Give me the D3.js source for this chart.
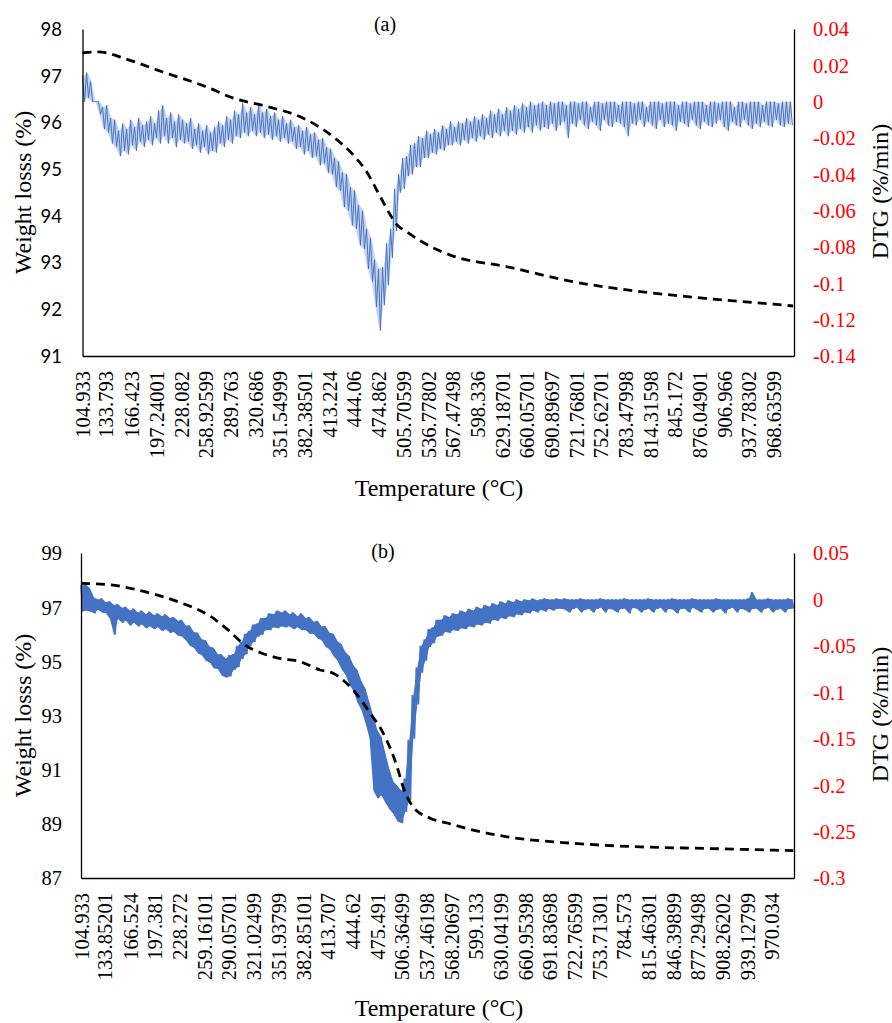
<!DOCTYPE html>
<html>
<head>
<meta charset="utf-8">
<script src="https://cdn.jsdelivr.net/npm/d3@7"></script>
<style>
  html, body { margin: 0; padding: 0; background: #ffffff; }
  svg { display: block; }
  .serif { font-family: "Liberation Serif", "Times New Roman", Tinos, "DejaVu Serif", serif; }
  .sans { font-family: Lato, "Open Sans", sans-serif; }
</style>
</head>
<body>
<svg id="chart" width="892" height="1023"></svg>
<script>
// ---- Temperature category labels (°C) ----
const tempLabelsA = ["104.933","133.793","166.423","197.24001","228.082","258.92599","289.763",
  "320.686","351.54999","382.38501","413.224","444.06","474.862","505.70599","536.77802",
  "567.47498","598.336","629.18701","660.05701","690.89697","721.76801","752.62701",
  "783.47998","814.31598","845.172","876.04901","906.966","937.78302","968.63599"];
const tempLabelsB = ["104.933","133.85201","166.524","197.381","228.272","259.16101","290.05701",
  "321.02499","351.93799","382.85101","413.707","444.62","475.491","506.36499","537.46198",
  "568.20697","599.133","630.04199","660.95398","691.83698","722.76599","753.71301",
  "784.573","815.46301","846.39899","877.29498","908.26202","939.12799","970.034"];

// ---- Axis tick values ----
const weightTicksA = [91, 92, 93, 94, 95, 96, 97, 98];
const dtgTicksA = [0.04, 0.02, 0, -0.02, -0.04, -0.06, -0.08, -0.1, -0.12, -0.14];
const weightTicksB = [87, 89, 91, 93, 95, 97, 99];
const dtgTicksB = [0.05, 0, -0.05, -0.1, -0.15, -0.2, -0.25, -0.3];

// ---- Weight loss curves (%), temperature in °C ----
const weightTempA = [104.9, 124.9, 162.4, 203.6, 258.6, 293.6, 336.1, 381.1, 418.6, 443.6,
  461.1, 474.8, 489.8, 496.0, 511.0, 536.0, 564.8, 636.0, 718.4, 802.2, 885.9, 968.4, 993.4];
const weightA = [97.49, 97.51, 97.34, 97.09, 96.77, 96.52, 96.34, 96.09, 95.69, 95.30,
  94.92, 94.49, 94.02, 93.85, 93.65, 93.38, 93.16, 92.91, 92.59, 92.38, 92.23, 92.11, 92.07];

const weightTempB = [104.9, 142.5, 185.1, 226.5, 267.8, 289.1, 310.4, 330.5, 351.8, 379.4,
  404.4, 420.7, 445.8, 467.1, 483.4, 500.9, 508.4, 521.0, 542.3, 563.6, 596.2, 638.8,
  721.5, 805.4, 889.4, 997.2];
const weightB = [97.88, 97.82, 97.57, 97.20, 96.65, 96.16, 95.60, 95.31, 95.12, 94.99,
  94.68, 94.56, 93.94, 93.09, 92.35, 91.10, 90.36, 89.62, 89.21, 89.03, 88.77, 88.52,
  88.28, 88.15, 88.09, 88.01];

// ---- DTG signal (%/min): upper and lower excursion of the noisy trace
//      in each 5 °C reading window starting at 105 °C ----
const dtgStart = 105, dtgStep = 5;

const dtgHiA = [
  0.014, 0.016, 0.011, 0.000, 0.000, -0.003, -0.002, -0.009, -0.010, -0.016,
  -0.012, -0.015, -0.010, -0.014, -0.009, -0.013, -0.011, -0.008, -0.012, -0.005,
  -0.002, -0.009, -0.006, -0.011, -0.007, -0.010, -0.012, -0.009, -0.015, -0.012,
  -0.016, -0.013, -0.017, -0.014, -0.011, -0.013, -0.008, -0.010, -0.005, -0.007,
  -0.001, -0.006, -0.003, -0.007, -0.002, -0.006, -0.004, -0.008, -0.006, -0.010,
  -0.008, -0.012, -0.010, -0.014, -0.013, -0.016, -0.014, -0.018, -0.017, -0.021,
  -0.020, -0.025, -0.026, -0.031, -0.033, -0.039, -0.040, -0.047, -0.049, -0.057,
  -0.060, -0.070, -0.075, -0.087, -0.092, -0.091, -0.078, -0.070, -0.048, -0.040,
  -0.031, -0.030, -0.024, -0.023, -0.019, -0.020, -0.016, -0.018, -0.015, -0.017,
  -0.013, -0.015, -0.011, -0.014, -0.011, -0.012, -0.009, -0.011, -0.008, -0.010,
  -0.007, -0.009, -0.005, -0.007, -0.004, -0.007, -0.003, -0.005, -0.002, -0.004,
  -0.001, -0.003, 0.000, -0.002, -0.001, 0.000, -0.002, 0.000, -0.001, 0.000,
  0.000, -0.002, 0.000, 0.000, -0.001, 0.000, 0.000, -0.003, 0.000, 0.000,
  -0.001, 0.000, 0.000, 0.000, -0.002, 0.000, 0.000, 0.000, -0.001, 0.000,
  0.000, -0.003, 0.000, 0.000, 0.000, -0.001, 0.000, 0.000, 0.000, -0.002,
  0.000, 0.000, -0.001, 0.000, 0.000, 0.000, -0.002, 0.000, 0.000, -0.001,
  0.000, 0.000, 0.000, -0.003, 0.000, 0.000, -0.001, 0.000, 0.000, 0.000,
  -0.002, 0.000, 0.000, 0.000, -0.001, 0.000, 0.000, 0.000
];
const dtgLoA = [
  0.000, 0.002, 0.000, 0.000, -0.007, -0.015, -0.017, -0.023, -0.025, -0.030,
  -0.027, -0.029, -0.024, -0.027, -0.022, -0.025, -0.021, -0.024, -0.020, -0.023,
  -0.019, -0.023, -0.020, -0.025, -0.021, -0.023, -0.022, -0.026, -0.024, -0.028,
  -0.025, -0.029, -0.027, -0.028, -0.023, -0.025, -0.021, -0.023, -0.019, -0.020,
  -0.017, -0.019, -0.016, -0.019, -0.017, -0.020, -0.018, -0.021, -0.019, -0.022,
  -0.020, -0.023, -0.022, -0.026, -0.025, -0.029, -0.027, -0.031, -0.030, -0.035,
  -0.034, -0.039, -0.040, -0.047, -0.049, -0.058, -0.060, -0.068, -0.070, -0.079,
  -0.081, -0.092, -0.099, -0.113, -0.126, -0.112, -0.101, -0.086, -0.071, -0.050,
  -0.048, -0.041, -0.040, -0.036, -0.036, -0.031, -0.031, -0.028, -0.029, -0.026,
  -0.027, -0.024, -0.024, -0.022, -0.024, -0.021, -0.023, -0.020, -0.022, -0.019,
  -0.021, -0.018, -0.020, -0.017, -0.019, -0.016, -0.019, -0.016, -0.018, -0.015,
  -0.017, -0.014, -0.017, -0.013, -0.016, -0.014, -0.015, -0.012, -0.016, -0.013,
  -0.011, -0.020, -0.012, -0.014, -0.010, -0.013, -0.015, -0.011, -0.013, -0.016,
  -0.010, -0.013, -0.014, -0.011, -0.012, -0.014, -0.019, -0.012, -0.013, -0.010,
  -0.014, -0.011, -0.013, -0.015, -0.010, -0.014, -0.012, -0.013, -0.016, -0.011,
  -0.012, -0.014, -0.010, -0.013, -0.015, -0.011, -0.013, -0.014, -0.012, -0.010,
  -0.014, -0.016, -0.011, -0.013, -0.014, -0.010, -0.013, -0.015, -0.012, -0.014,
  -0.011, -0.013, -0.014, -0.010, -0.013, -0.014, -0.012, -0.013
];

const dtgHiB = [
  0.015, 0.016, 0.012, 0.002, 0.000, 0.001, -0.003, -0.002, -0.006, -0.005,
  -0.009, -0.008, -0.012, -0.010, -0.014, -0.012, -0.016, -0.013, -0.017, -0.015,
  -0.018, -0.016, -0.020, -0.019, -0.023, -0.022, -0.028, -0.028, -0.035, -0.036,
  -0.043, -0.044, -0.051, -0.052, -0.059, -0.059, -0.064, -0.060, -0.059, -0.050,
  -0.046, -0.037, -0.034, -0.027, -0.026, -0.020, -0.020, -0.015, -0.016, -0.012,
  -0.014, -0.012, -0.016, -0.014, -0.018, -0.015, -0.020, -0.019, -0.024, -0.023,
  -0.029, -0.029, -0.036, -0.037, -0.045, -0.048, -0.057, -0.061, -0.071, -0.076,
  -0.088, -0.096, -0.111, -0.126, -0.141, -0.148, -0.166, -0.183, -0.196, -0.201,
  -0.206, -0.193, -0.151, -0.103, -0.073, -0.050, -0.043, -0.032, -0.030, -0.022,
  -0.022, -0.017, -0.019, -0.015, -0.016, -0.012, -0.014, -0.010, -0.012, -0.008,
  -0.010, -0.006, -0.008, -0.004, -0.006, -0.002, -0.004, -0.001, -0.003, 0.000,
  -0.002, 0.000, -0.001, 0.001, -0.001, 0.000, 0.001, 0.000, 0.000, 0.001,
  0.000, 0.001, 0.000, 0.000, 0.000, 0.001, 0.000, 0.000, 0.000, 0.000,
  0.001, 0.000, 0.000, 0.000, 0.000, 0.000, 0.001, 0.000, 0.000, 0.000,
  0.000, 0.000, 0.001, 0.000, 0.000, 0.000, 0.000, 0.000, 0.001, 0.000,
  0.000, 0.000, 0.000, 0.001, 0.000, 0.000, 0.000, 0.000, 0.000, 0.001,
  0.000, 0.000, 0.000, 0.000, 0.000, 0.000, 0.000, 0.001, 0.008, 0.000,
  0.000, 0.000, 0.001, 0.000, 0.000, 0.000, 0.000, 0.001, 0.000
];
const dtgLoB = [
  -0.013, -0.012, -0.013, -0.015, -0.011, -0.014, -0.015, -0.021, -0.038, -0.021,
  -0.025, -0.023, -0.028, -0.025, -0.029, -0.027, -0.031, -0.029, -0.032, -0.030,
  -0.034, -0.032, -0.036, -0.035, -0.039, -0.040, -0.044, -0.050, -0.052, -0.058,
  -0.060, -0.066, -0.068, -0.074, -0.075, -0.082, -0.084, -0.083, -0.076, -0.073,
  -0.064, -0.059, -0.050, -0.046, -0.040, -0.038, -0.033, -0.033, -0.030, -0.031,
  -0.029, -0.030, -0.029, -0.032, -0.030, -0.033, -0.033, -0.037, -0.037, -0.042,
  -0.044, -0.051, -0.054, -0.061, -0.066, -0.075, -0.081, -0.092, -0.099, -0.111,
  -0.119, -0.133, -0.149, -0.206, -0.214, -0.211, -0.219, -0.226, -0.231, -0.239,
  -0.241, -0.229, -0.216, -0.150, -0.113, -0.079, -0.066, -0.051, -0.047, -0.040,
  -0.039, -0.035, -0.036, -0.033, -0.034, -0.031, -0.032, -0.029, -0.030, -0.027,
  -0.028, -0.025, -0.026, -0.022, -0.023, -0.020, -0.021, -0.018, -0.019, -0.016,
  -0.017, -0.014, -0.015, -0.012, -0.014, -0.011, -0.013, -0.010, -0.012, -0.010,
  -0.010, -0.011, -0.014, -0.010, -0.009, -0.014, -0.011, -0.010, -0.014, -0.010,
  -0.009, -0.014, -0.010, -0.011, -0.014, -0.010, -0.010, -0.015, -0.009, -0.010,
  -0.014, -0.011, -0.010, -0.014, -0.010, -0.009, -0.014, -0.010, -0.011, -0.015,
  -0.010, -0.010, -0.014, -0.009, -0.011, -0.014, -0.010, -0.010, -0.014, -0.011,
  -0.010, -0.015, -0.010, -0.009, -0.014, -0.010, -0.011, -0.014, -0.010, -0.010,
  -0.014, -0.010, -0.009, -0.014, -0.011, -0.010, -0.014, -0.010, -0.010
];

// ---- Drawing ----
const BLUE = "#4472C4";
const svg = d3.select("#chart");

function fmtTick(d) {
  const v = +d.toFixed(4);
  return String(v === 0 ? 0 : v);
}

function drawPanel(p) {
  const g = svg.append("g");

  const x = d3.scaleLinear().domain(p.tempDomain).range([p.left, p.right]);
  const yW = d3.scaleLinear().domain(p.weightDomain).range([p.bottom, p.top]);
  const yD = d3.scaleLinear().domain(p.dtgDomain).range([p.bottom, p.top]);

  // DTG trace: each window contributes its upper then lower excursion
  const n = Math.min(p.dtgHi.length, p.dtgLo.length);
  const dtgPts = [];
  const dtgBand = [];
  for (let i = 0; i < n; i++) {
    const t = dtgStart + i * dtgStep;
    dtgPts.push([t, p.dtgHi[i]]);
    dtgPts.push([t + dtgStep / 2, p.dtgLo[i]]);
    dtgBand.push([t, p.dtgHi[i], p.dtgLo[i]]);
  }

  // spread of the noisy signal
  g.append("path")
    .datum(dtgBand)
    .attr("fill", BLUE)
    .attr("fill-opacity", p.bandOpacity)
    .attr("stroke", "none")
    .attr("d", d3.area().x(d => x(d[0] + dtgStep / 4)).y0(d => yD(d[2])).y1(d => yD(d[1])));

  g.append("path")
    .datum(dtgPts)
    .attr("fill", "none")
    .attr("stroke", BLUE)
    .attr("stroke-width", p.dtgWidth)
    .attr("stroke-linejoin", "miter")
    .attr("d", d3.line().x(d => x(d[0])).y(d => yD(d[1])));

  // Weight-loss curve (dashed)
  const wPts = p.weightTemp.map((t, i) => [t, p.weight[i]]);
  g.append("path")
    .datum(wPts)
    .attr("fill", "none")
    .attr("stroke", "#000")
    .attr("stroke-width", 2.8)
    .attr("stroke-dasharray", "9,6")
    .attr("d", d3.line().curve(d3.curveMonotoneX).x(d => x(d[0])).y(d => yW(d[1])));

  // Bottom axis with rotated category labels
  const xAxis = d3.axisBottom(x)
    .tickValues(p.tempLabels.map(Number))
    .tickFormat((d, i) => p.tempLabels[i])
    .tickSize(0).tickSizeOuter(0);
  const gx = g.append("g").attr("transform", `translate(0,${p.bottom})`).call(xAxis);
  gx.attr("font-family", null).attr("font-size", null);
  gx.select(".domain").attr("stroke", "#000").attr("stroke-width", 1.3);
  gx.selectAll("text")
    .attr("class", "serif")
    .attr("transform", "rotate(-90)")
    .attr("x", -(p.labelTop - p.bottom))
    .attr("y", 0)
    .attr("dy", "0.35em")
    .attr("text-anchor", "end")
    .attr("font-size", "20.5px")
    .attr("fill", "#000");

  // Left axis (weight)
  const gl = g.append("g").attr("transform", `translate(${p.left},0)`)
    .call(d3.axisLeft(yW).tickValues(p.weightTicks).tickFormat(d => String(d))
      .tickSize(0).tickSizeOuter(0).tickPadding(p.left - 62));
  gl.attr("font-family", null).attr("font-size", null);
  gl.select(".domain").attr("stroke", "#000").attr("stroke-width", 1.3);
  gl.selectAll("text")
    .attr("class", p.leftClass)
    .attr("font-size", p.leftFontSize)
    .attr("dy", "0.34em")
    .attr("fill", "#000");

  // Right axis (DTG)
  const gr = g.append("g").attr("transform", `translate(${p.right},0)`)
    .call(d3.axisRight(yD).tickValues(p.dtgTicks).tickFormat(fmtTick)
      .tickSize(0).tickSizeOuter(0).tickPadding(19));
  gr.attr("font-family", null).attr("font-size", null);
  gr.select(".domain").attr("stroke", "#000").attr("stroke-width", 1.3);
  gr.selectAll("text")
    .attr("class", "serif")
    .attr("font-size", "20.5px")
    .attr("dy", "0.34em")
    .attr("fill", "#FF0000");

  // Titles
  g.append("text")
    .attr("class", "serif")
    .attr("x", p.tagX).attr("y", p.tagY)
    .attr("text-anchor", "middle")
    .attr("font-size", "20px")
    .text(p.tag);

  g.append("text")
    .attr("class", "serif")
    .attr("x", 439).attr("y", p.xTitleY)
    .attr("text-anchor", "middle")
    .attr("font-size", "24px")
    .text("Temperature (°C)");

  const cy = (p.top + p.bottom) / 2;
  g.append("text")
    .attr("class", "serif")
    .attr("transform", `translate(${31},${cy}) rotate(-90)`)
    .attr("text-anchor", "middle")
    .attr("font-size", "24px")
    .text("Weight losss (%)");

  g.append("text")
    .attr("class", "serif")
    .attr("transform", `translate(${888},${cy - 1}) rotate(-90)`)
    .attr("text-anchor", "middle")
    .attr("font-size", "24px")
    .text("DTG (%/min)");
}

drawPanel({
  left: 82.5, right: 794, top: 29, bottom: 356, labelTop: 371,
  tempDomain: [104.933, 994.5], weightDomain: [91, 98], dtgDomain: [-0.14, 0.04],
  tempLabels: tempLabelsA, weightTicks: weightTicksA, dtgTicks: dtgTicksA,
  weightTemp: weightTempA, weight: weightA, dtgHi: dtgHiA, dtgLo: dtgLoA,
  dtgWidth: 1.0, bandOpacity: 0.3, leftClass: "sans", leftFontSize: "18.5px",
  tag: "(a)", tagX: 385, tagY: 31, xTitleY: 496
});

drawPanel({
  left: 81, right: 794, top: 553, bottom: 878, labelTop: 893,
  tempDomain: [104.933, 998], weightDomain: [87, 99], dtgDomain: [-0.3, 0.05],
  tempLabels: tempLabelsB, weightTicks: weightTicksB, dtgTicks: dtgTicksB,
  weightTemp: weightTempB, weight: weightB, dtgHi: dtgHiB, dtgLo: dtgLoB,
  dtgWidth: 1.8, bandOpacity: 1, leftClass: "serif", leftFontSize: "20.5px",
  tag: "(b)", tagX: 383, tagY: 558, xTitleY: 1016
});
</script>
</body>
</html>
